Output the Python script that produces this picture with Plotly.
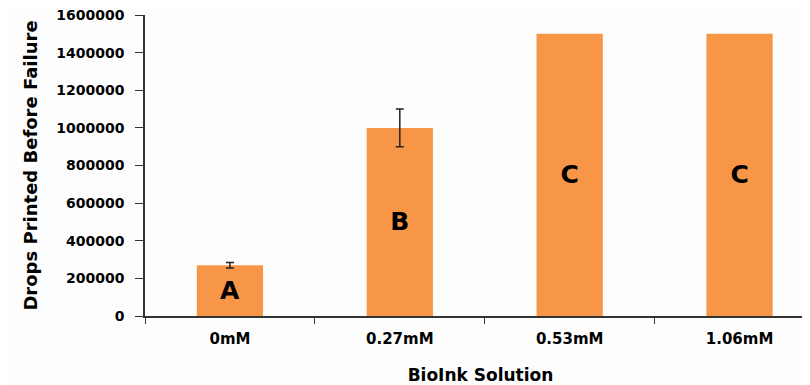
import plotly.graph_objects as go

categories = ["0mM", "0.27mM", "0.53mM", "1.06mM"]
drops = [270000, 1000000, 1500000, 1500000]
errors = [15000, 100000, 0, 0]
letters = ["A", "B", "C", "C"]
y_ticks = [0, 200000, 400000, 600000, 800000, 1000000, 1200000, 1400000, 1600000]

font_family = "DejaVu Sans, sans-serif"

fig = go.Figure()
fig.add_trace(go.Bar(
    x=categories,
    y=drops,
    width=0.39,
    marker=dict(color="#F79646", line=dict(width=0)),
    text=letters,
    textposition="inside",
    insidetextanchor="middle",
    textangle=0,
    textfont=dict(family=font_family, size=25, color="black", weight="bold"),
    hoverinfo="skip",
))

# error bars only where an error was reported
err_idx = [i for i, e in enumerate(errors) if e > 0]
fig.add_trace(go.Scatter(
    x=[categories[i] for i in err_idx],
    y=[drops[i] for i in err_idx],
    mode="markers",
    marker=dict(size=0.1, color="rgba(0,0,0,0)"),
    error_y=dict(type="data", array=[errors[i] for i in err_idx], visible=True,
                 color="#222222", thickness=1.5, width=4),
    hoverinfo="skip",
))

fig.update_layout(
    width=810, height=385,
    margin=dict(l=137, r=2, t=7, b=77),
    paper_bgcolor="#FDFDFD",
    plot_bgcolor="#FDFDFD",
    showlegend=False,
    font=dict(family=font_family, color="black"),
    uniformtext=dict(minsize=8, mode="show"),
)
fig.update_xaxes(
    type="category",
    range=[-0.5, 3.45],
    automargin=False,
    showline=True, linecolor="#333333", linewidth=1.5,
    ticks="outside", tickson="boundaries", ticklen=6, tickcolor="#333333",
    ticklabelstandoff=8,
    tickfont=dict(size=15, family=font_family, weight="bold"),
    title=dict(text="BioInk Solution", font=dict(size=17, family=font_family, weight="bold"), standoff=22),
    showgrid=False, zeroline=False,
)
fig.update_yaxes(
    range=[0, 1600000],
    automargin=False,
    tickvals=y_ticks,
    ticktext=[str(v) for v in y_ticks],
    ticklabeloverflow="allow",
    ticklabelstandoff=8,
    showline=True, linecolor="#333333", linewidth=1.5,
    ticks="outside", ticklen=8, tickcolor="#333333",
    tickfont=dict(size=14, family=font_family, weight="bold"),
    title=dict(text="Drops Printed Before Failure", font=dict(size=18, family=font_family, weight="bold"), standoff=14),
    showgrid=False, zeroline=False,
)

fig.write_html("out.html")
